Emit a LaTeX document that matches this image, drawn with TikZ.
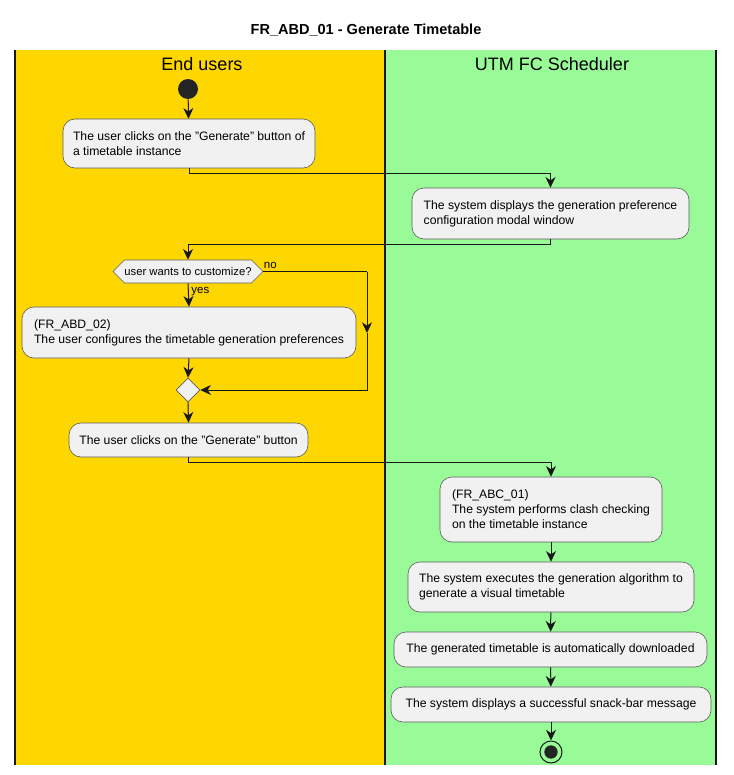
\documentclass[tikz,border=0pt]{standalone}
\usepackage{fontspec}
\setmainfont{Liberation Sans}
\usetikzlibrary{arrows.meta,shapes.geometric,shapes.symbols,positioning}
\definecolor{lanegold}{HTML}{FFD700}
\definecolor{lanegreen}{HTML}{98FB98}
\definecolor{actfill}{HTML}{F1F1F1}
\definecolor{ink}{HTML}{181818}
\begin{document}
\begin{tikzpicture}[x=0.75pt,y=-0.75pt,>={Stealth[length=8pt,width=7.5pt,inset=2.5pt]}]
		\tikzstyle{act}=[draw=ink!70,line width=0.45pt,fill=actfill,rounded corners=9pt,align=left,inner xsep=6pt,inner ysep=0pt,font=\fontsize{9.15}{11.25}\selectfont]
		\tikzstyle{flow}=[draw=ink,line width=0.75pt]
		\tikzstyle{lane}=[draw=ink,line width=1.1pt]
		\tikzstyle{lanehead}=[font=\fontsize{13.5}{16}\selectfont]
		\tikzstyle{branch}=[draw=ink!70,line width=0.45pt,fill=actfill,inner sep=0pt,font=\fontsize{8.45}{10}\selectfont]
		\tikzstyle{guard}=[font=\fontsize{8.6}{10}\selectfont,inner sep=1pt]

		\useasboundingbox (0,0) rectangle (733,775);

		% swimlanes
		\fill[lanegold] (15,50) rectangle (385,765);
		\fill[lanegreen] (385,50) rectangle (716,765);
		\draw[lane] (15,50) -- (15,765);
		\draw[lane] (385,50) -- (385,765);
		\draw[lane] (716,50) -- (716,765);

		\node[font=\bfseries\fontsize{10.9}{12}\selectfont](title) at (366,30){FR\_ABD\_01 - Generate Timetable};
		\node[lanehead](endusers) at (202,64){End users};
		\node[lanehead](scheduler) at (552,64){UTM FC Scheduler};

		% end users lane
		\node[circle,fill=ink!95,minimum size=15pt,inner sep=0pt](start) at (188,89){};
		\node[act,minimum width=189pt,minimum height=36.75pt](clickgen) at (189,143.5){The user clicks on the "Generate" button of\\a timetable instance};
		\node[branch,shape=signal,signal to=west and east,signal pointer angle=90,minimum width=111pt,minimum height=17.25pt](custom) at (188,271.5){user wants to customize?};
		\node[act,minimum width=250.5pt,minimum height=38.25pt](configure) at (189,332.5){(FR\_ABD\_02)\\The user configures the timetable generation preferences};
		\node[branch,shape=diamond,minimum size=18pt](merge) at (188,390){};
		\node[act,minimum width=179.25pt,minimum height=25.5pt](clickbtn) at (188.5,440){The user clicks on the "Generate" button};

		% scheduler lane
		\node[act,minimum width=207.75pt,minimum height=38.25pt](modal) at (550.5,213.5){The system displays the generation preference\\configuration modal window};
		\node[act,minimum width=166.5pt,minimum height=48.75pt](clash) at (551,509.5){(FR\_ABC\_01)\\The system performs clash checking\\on the timetable instance};
		\node[act,minimum width=214.5pt,minimum height=37.5pt](algo) at (551,587){The system executes the generation algorithm to\\generate a visual timetable};
		\node[act,minimum width=234.75pt,minimum height=26.25pt](download) at (550.5,649.5){The generated timetable is automatically downloaded};
		\node[act,minimum width=240pt,minimum height=26.25pt](snackbar) at (551,704.5){The system displays a successful snack-bar message};
		\node[circle,draw=ink,line width=0.75pt,minimum size=16.5pt,inner sep=0pt](stop) at (551,752){};
		\node[circle,fill=ink!95,minimum size=10pt,inner sep=0pt](stopdot) at (stop){};

		\coordinate (nobend) at (367,271.5);
		\coordinate (nomid) at (367,333);

		\draw[flow,->] (start) -- (clickgen);
		\draw[flow,->] (clickgen.south) -- ++(0,5) -| (modal.north);
		\draw[flow,->] (modal.south) -- ++(0,5) -| (custom.north);
		\draw[flow,->] (custom.south) -- node[guard,right,pos=0.3,yshift=-1pt,xshift=1pt]{yes} (configure.north);
		\draw[flow] (custom.east) -- node[guard,above right,pos=0,xshift=-1pt,yshift=0.5pt]{no} (nobend);
		\draw[flow,->] (nobend) -- (nomid);
		\draw[flow,->] (nomid) |- (merge.east);
		\draw[flow,->] (configure.south) -- (merge.north);
		\draw[flow,->] (merge.south) -- (clickbtn.north);
		\draw[flow,->] (clickbtn.south) -- ++(0,5) -| (clash.north);
		\draw[flow,->] (clash) -- (algo);
		\draw[flow,->] (algo) -- (download);
		\draw[flow,->] (download) -- (snackbar);
		\draw[flow,->] (snackbar) -- (stop);
	\end{tikzpicture}
\end{document}
